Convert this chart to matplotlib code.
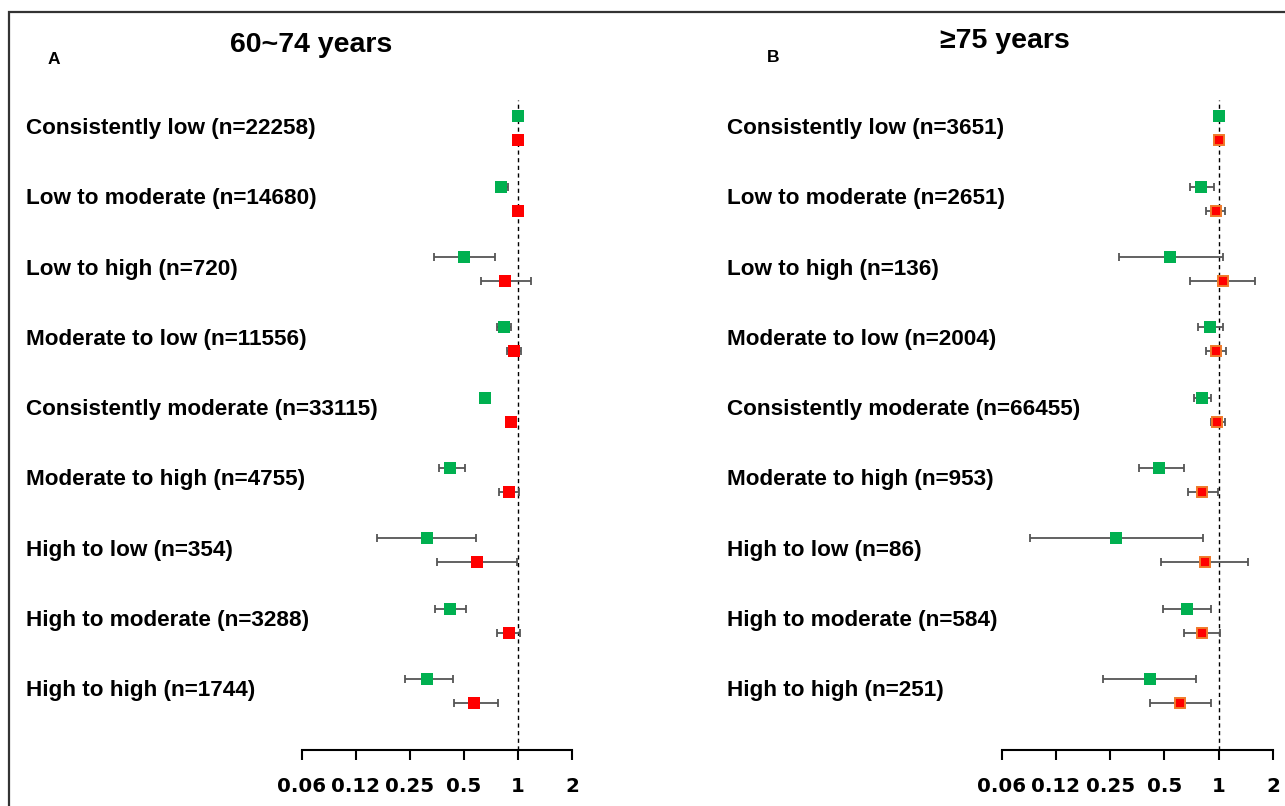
import numpy as np
import matplotlib
matplotlib.use("Agg")
import matplotlib.pyplot as plt
import matplotlib.transforms as mtransforms
from matplotlib.patches import Rectangle

# ---------------- data ----------------
categories = ["Consistently low", "Low to moderate", "Low to high", "Moderate to low",
              "Consistently moderate", "Moderate to high", "High to low",
              "High to moderate", "High to high"]
n_a = [22258, 14680, 720, 11556, 33115, 4755, 354, 3288, 1744]
n_b = [3651, 2651, 136, 2004, 66455, 953, 86, 584, 251]

nan = np.nan
# Panel A (60~74 years)
hrA_green = [1.00, 0.80, 0.50, 0.83, 0.65, 0.42, 0.31, 0.42, 0.31]
loA_green = [nan, 0.76, 0.34, 0.76, 0.62, 0.365, 0.165, 0.345, 0.236]
hiA_green = [nan, 0.875, 0.74, 0.915, 0.68, 0.505, 0.586, 0.515, 0.434]
hrA_red = [1.00, 1.00, 0.85, 0.953, 0.917, 0.894, 0.591, 0.886, 0.571]
loA_red = [nan, 0.96, 0.623, 0.87, 0.88, 0.786, 0.353, 0.759, 0.441]
hiA_red = [nan, 1.04, 1.177, 1.04, 0.955, 1.008, 0.982, 1.026, 0.773]

# Panel B (>=75 years)
hrB_green = [1.00, 0.80, 0.538, 0.891, 0.81, 0.469, 0.27, 0.669, 0.418]
loB_green = [nan, 0.695, 0.28, 0.764, 0.728, 0.363, 0.0895, 0.491, 0.228]
hiB_green = [nan, 0.938, 1.062, 1.062, 0.906, 0.638, 0.818, 0.911, 0.744]
hrB_red = [1.00, 0.97, 1.062, 0.97, 0.983, 0.811, 0.835, 0.811, 0.612]
loB_red = [nan, 0.854, 0.695, 0.846, 0.906, 0.672, 0.481, 0.644, 0.414]
hiB_red = [nan, 1.09, 1.594, 1.10, 1.08, 0.99, 1.445, 1.017, 0.911]

tick_vals = [0.0625, 0.125, 0.25, 0.5, 1, 2]
tick_labels = ["0.06", "0.12", "0.25", "0.5", "1", "2"]

# ---------------- figure ----------------
W, H = 1285, 806
DPI = 100
fig = plt.figure(figsize=(W / DPI, H / DPI), dpi=DPI)
fig.patch.set_facecolor("white")

LABEL_FONT = "Liberation Sans"
TICK_FONT = "DejaVu Sans"
GREEN = "#00B050"
RED = "#FF0000"
ORANGE = "#F07A2A"
GRAY = "#555555"

# frame around the figure (top and left visible)
fig.add_artist(Rectangle((9 / W, -0.2), 1.2, (H - 12) / H + 0.2, transform=fig.transFigure,
                         fill=False, edgecolor="#333333", lw=1.6, clip_on=False))

row_step = 70.3
row0 = 128.5
ax_top_px, ax_bot_px = 100, 750
ylim_top = (ax_top_px - row0) / row_step
ylim_bot = (ax_bot_px - row0) / row_step
offset = 12 / row_step


def make_panel(x0, x1, label_x, ns, g, glo, ghi, r, rlo, rhi, red_edge):
    ax = fig.add_axes([x0 / W, (H - ax_bot_px) / H, (x1 - x0) / W, (ax_bot_px - ax_top_px) / H])
    ax.set_xscale("log", base=2)
    ax.set_xlim(tick_vals[0], tick_vals[-1])
    ax.set_ylim(ylim_bot, ylim_top)
    for s in ["top", "right", "left"]:
        ax.spines[s].set_visible(False)
    ax.spines["bottom"].set_linewidth(1.5)
    ax.set_yticks([])
    ax.set_xticks(tick_vals)
    ax.set_xticklabels(tick_labels)
    ax.xaxis.set_minor_locator(matplotlib.ticker.NullLocator())
    ax.tick_params(axis="x", direction="out", length=7.5, width=1.5, pad=12,
                   labelsize=14.3)
    for t in ax.get_xticklabels():
        t.set_fontfamily(TICK_FONT)
        t.set_fontweight("bold")
    ax.patch.set_alpha(0)

    ax.axvline(1, color="black", lw=1.0, ls=(0, (3, 2.5)), zorder=1)

    y = np.arange(len(categories))
    g = np.array(g); glo = np.array(glo); ghi = np.array(ghi)
    r = np.array(r); rlo = np.array(rlo); rhi = np.array(rhi)
    yg = y - offset
    yr = y + offset
    mg = ~np.isnan(glo)
    mr = ~np.isnan(rlo)
    ax.errorbar(g[mg], yg[mg], xerr=[g[mg] - glo[mg], ghi[mg] - g[mg]], fmt="none",
                ecolor=GRAY, elinewidth=1.3, capsize=3, capthick=1.3, zorder=2)
    ax.errorbar(r[mr], yr[mr], xerr=[r[mr] - rlo[mr], rhi[mr] - r[mr]], fmt="none",
                ecolor=GRAY, elinewidth=1.3, capsize=3, capthick=1.3, zorder=2)
    ax.plot(g, yg, ls="none", marker="s", ms=8.6, mew=0, color=GREEN, zorder=3)
    if red_edge:
        ax.plot(r, yr, ls="none", marker="s", ms=7.4, mew=1.4, mfc=RED, mec=ORANGE, zorder=3)
    else:
        ax.plot(r, yr, ls="none", marker="s", ms=8.6, mew=0, color=RED, zorder=3)

    trans = mtransforms.blended_transform_factory(fig.transFigure, ax.transData)
    for i, (c, n) in enumerate(zip(categories, ns)):
        ax.text(label_x / W, i, f"{c} (n={n})", transform=trans, ha="left", va="center",
                fontsize=16.2, fontweight="bold", fontfamily=LABEL_FONT, color="black",
                clip_on=False)
    return ax


make_panel(301.7, 572.3, 26, n_a, hrA_green, loA_green, hiA_green,
           hrA_red, loA_red, hiA_red, red_edge=False)
make_panel(1001.7, 1273.0, 727, n_b, hrB_green, loB_green, hiB_green,
           hrB_red, loB_red, hiB_red, red_edge=True)

# titles and panel letters
fig.text(311.5 / W, 1 - 45 / H, "60~74 years", ha="center", va="center", fontsize=20.5,
         fontweight="bold", fontfamily=LABEL_FONT)
fig.text(1004.5 / W, 1 - 41 / H, "≥75 years", ha="center", va="center", fontsize=20.5,
         fontweight="bold", fontfamily=LABEL_FONT)
fig.text(53.5 / W, 1 - 59 / H, "A", ha="center", va="center", fontsize=12.5,
         fontweight="bold", fontfamily=LABEL_FONT)
fig.text(773 / W, 1 - 58 / H, "B", ha="center", va="center", fontsize=12.5,
         fontweight="bold", fontfamily=LABEL_FONT)

fig.savefig("out.png", dpi=DPI, facecolor="white")
